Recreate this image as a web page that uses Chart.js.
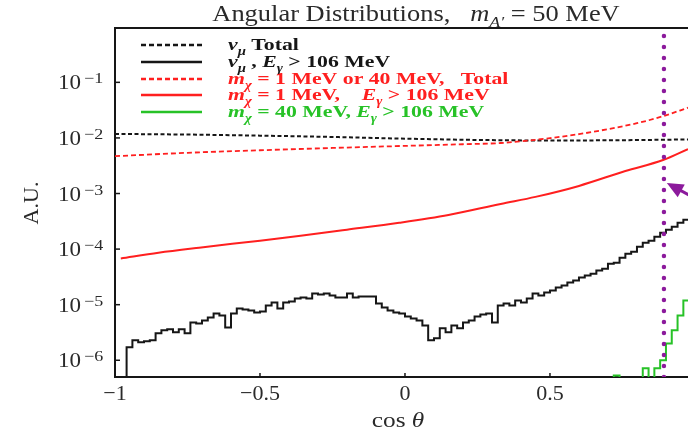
<!DOCTYPE html>
<html>
<head>
<meta charset="utf-8">
<script src="https://cdn.jsdelivr.net/npm/chart.js@4.4.1/dist/chart.umd.min.js"></script>
<style>
  html, body { margin: 0; padding: 0; background: #fff; overflow: hidden; }
  #wrap { width: 688px; height: 430px; }
</style>
</head>
<body>
<div id="wrap"><canvas id="angChart" width="688" height="430"></canvas></div>
<script>
// histogram bins in cos(theta)
const binWidth = 0.02;

// nu_mu background, E_gamma > 106 MeV (bins start at cos = -0.96)
const numuCutStart = -0.96;
const numuCut = [
  1.71e-6, 2.28e-6, 2.10e-6, 2.19e-6, 2.28e-6, 3.05e-6, 3.45e-6, 3.60e-6, 3.18e-6, 3.60e-6,
  3.05e-6, 4.80e-6, 4.60e-6, 5.21e-6, 5.90e-6, 6.95e-6, 6.40e-6, 3.90e-6, 6.95e-6, 8.55e-6,
  8.20e-6, 7.87e-6, 7.24e-6, 7.55e-6, 9.68e-6, 1.09e-5, 8.55e-6, 1.09e-5, 1.14e-5, 1.29e-5,
  1.35e-5, 1.29e-5, 1.59e-5, 1.52e-5, 1.59e-5, 1.46e-5, 1.35e-5, 1.35e-5, 1.59e-5, 1.35e-5,
  1.40e-5, 1.40e-5, 1.40e-5, 1.05e-5, 8.90e-6, 7.87e-6, 7.24e-6, 6.95e-6, 6.15e-6, 5.66e-6,
  5.21e-6, 4.23e-6, 2.28e-6, 2.48e-6, 3.75e-6, 3.18e-6, 4.23e-6, 3.75e-6, 4.80e-6, 5.21e-6,
  6.15e-6, 6.67e-6, 6.95e-6, 4.80e-6, 9.68e-6, 1.05e-5, 9.68e-6, 1.19e-5, 1.09e-5, 1.29e-5,
  1.59e-5, 1.46e-5, 1.66e-5, 1.80e-5, 2.03e-5, 2.21e-5, 2.50e-5, 2.72e-5, 3.07e-5, 3.34e-5,
  3.62e-5, 4.10e-5, 4.45e-5, 5.47e-5, 5.70e-5, 7.01e-5, 8.27e-5, 8.97e-5, 1.10e-4, 1.30e-4,
  1.42e-4, 1.67e-4, 1.97e-4, 2.23e-4, 2.52e-4, 2.97e-4, 3.37e-4
];

// m_chi = 40 MeV, E_gamma > 106 MeV (bins start at cos = 0.72)
const chi40CutStart = 0.72;
const chi40Cut = [5.3e-7, 0, 0, 0, 0, 7.2e-7, 0, 7.2e-7, 1.0e-6, 2.0e-6, 3.45e-6, 6.4e-6, 1.19e-5];

// nu_mu total
const numuTotalCos = [-1, -0.75, -0.5, -0.25, 0, 0.25, 0.5, 0.75, 0.976];
const numuTotal = [1.18e-2, 1.15e-2, 1.10e-2, 1.04e-2, 9.7e-3, 9.2e-3, 9.0e-3, 9.1e-3, 9.4e-3];

// m_chi = 1 MeV or 40 MeV, total
const chiTotalCos = [-1, -0.75, -0.5, -0.25, 0, 0.2, 0.33, 0.5, 0.6, 0.7, 0.8, 0.89, 0.976];
const chiTotal = [4.7e-3, 5.4e-3, 6.0e-3, 6.6e-3, 7.2e-3, 7.7e-3, 8.1e-3, 9.9e-3, 1.17e-2, 1.44e-2, 1.84e-2, 2.46e-2, 3.5e-2];

// m_chi = 1 MeV, E_gamma > 106 MeV
const chi1CutCos = [-0.98, -0.85, -0.71, -0.5, -0.36, -0.2, -0.02, 0.15, 0.33, 0.45, 0.6, 0.76, 0.89, 0.976];
const chi1Cut = [6.8e-5, 8.6e-5, 1.06e-4, 1.42e-4, 1.74e-4, 2.23e-4, 2.97e-4, 4.1e-4, 6.5e-4, 8.7e-4, 1.37e-3, 2.54e-3, 4.0e-3, 6.3e-3];

// angular cut and arrow tip
const cutCos = 0.893;
const arrowTip = { x: 0.903, y: 1.55e-3 };

// axes
const xTickValues = [-1, -0.5, 0, 0.5];
const xTickLabels = ['\u22121', '\u22120.5', '0', '0.5'];
const yTickExps = [-6, -5, -4, -3, -2, -1];
const xRange = [-1, 0.976];
const yRange = [5e-7, 0.95];

const BLACK = '#161616', RED = '#ff1f1f', GREEN = '#27c227', PURPLE = '#8c1a9c';
const SERIF = '"Liberation Serif", "Times New Roman", serif';

function histPoints(start, values) {
  const pts = [{ x: start, y: 1e-9 }];
  values.forEach((v, i) => {
    const lo = start + i * binWidth, hi = lo + binWidth;
    const y = v > 0 ? v : 1e-9;
    pts.push({ x: lo, y: y }, { x: hi, y: y });
  });
  return pts;
}
function pairs(xs, ys) { return xs.map((x, i) => ({ x: x, y: ys[i] })); }

// draw a sequence of text runs (italic / sub / sup) starting at baseline y
function drawRuns(ctx, runs, x, y, size, color, weight, align, sx) {
  const fontFor = r => {
    const s = (r.sub || r.sup) ? size * 0.68 : size;
    return (r.it ? 'italic ' : '') + (weight || 'normal') + ' ' + s + 'px ' + SERIF;
  };
  let total = 0;
  runs.forEach(r => { ctx.font = fontFor(r); total += ctx.measureText(r.t).width; });
  ctx.save();
  ctx.translate(x, 0);
  ctx.scale(sx || 1.12, 1);
  let cx = align === 'center' ? -total / 2 : (align === 'right' ? -total : 0);
  ctx.fillStyle = color;
  ctx.textAlign = 'left';
  ctx.textBaseline = 'alphabetic';
  runs.forEach(r => {
    ctx.font = fontFor(r);
    const dy = r.sub ? size * 0.28 : (r.sup ? -size * 0.45 : 0);
    ctx.fillText(r.t, cx, y + dy);
    cx += ctx.measureText(r.t).width;
  });
  ctx.restore();
}

const legendItems = [
  { color: BLACK, dash: [5, 3], runs: [{ t: '\u03bd', it: true }, { t: '\u03bc', sub: true, it: true }, { t: ' Total' }] },
  { color: BLACK, dash: [], runs: [{ t: '\u03bd', it: true }, { t: '\u03bc', sub: true, it: true }, { t: ' , ' }, { t: 'E', it: true }, { t: '\u03b3', sub: true, it: true }, { t: ' > 106 MeV' }] },
  { color: RED, dash: [5, 3], runs: [{ t: 'm', it: true }, { t: '\u03c7', sub: true, it: true }, { t: ' = 1 MeV or 40 MeV,   Total' }] },
  { color: RED, dash: [], runs: [{ t: 'm', it: true }, { t: '\u03c7', sub: true, it: true }, { t: ' = 1 MeV,    ' }, { t: 'E', it: true }, { t: '\u03b3', sub: true, it: true }, { t: ' > 106 MeV' }] },
  { color: GREEN, dash: [], runs: [{ t: 'm', it: true }, { t: '\u03c7', sub: true, it: true }, { t: ' = 40 MeV, ' }, { t: 'E', it: true }, { t: '\u03b3', sub: true, it: true }, { t: ' > 106 MeV' }] }
];

const decorPlugin = {
  id: 'decor',
  afterDraw(chart) {
    const ctx = chart.ctx, area = chart.chartArea;
    const xs = chart.scales.x, ys = chart.scales.y;
    ctx.save();
    // top frame
    ctx.strokeStyle = BLACK; ctx.lineWidth = 2;
    ctx.beginPath(); ctx.moveTo(area.left - 1, area.top); ctx.lineTo(area.right, area.top); ctx.stroke();
    // inward ticks
    ctx.lineWidth = 1.5;
    yTickExps.forEach(e => {
      const py = ys.getPixelForValue(Math.pow(10, e));
      ctx.beginPath(); ctx.moveTo(area.left, py); ctx.lineTo(area.left + 5, py); ctx.stroke();
    });
    xTickValues.forEach(v => {
      const px = xs.getPixelForValue(v);
      ctx.beginPath(); ctx.moveTo(px, area.bottom); ctx.lineTo(px, area.bottom - 4); ctx.stroke();
    });
    // y tick labels 10^k
    yTickExps.forEach(e => {
      const py = ys.getPixelForValue(Math.pow(10, e));
      drawRuns(ctx, [{ t: '10' }], 81, py + 7, 20, '#2a2a2a', 'normal', 'right', 1.15);
      drawRuns(ctx, [{ t: '\u2212' + Math.abs(e) }], 84, py + 1, 15, '#2a2a2a', 'normal', 'left', 1.2);
    });
    // axis titles
    drawRuns(ctx, [{ t: 'cos ' }, { t: '\u03b8', it: true }], 398, 427, 22, '#2a2a2a', 'normal', 'center', 1.15);
    ctx.save();
    ctx.translate(38, 203);
    ctx.rotate(-Math.PI / 2);
    drawRuns(ctx, [{ t: 'A.U.' }], 0, 0, 22, '#2a2a2a', 'normal', 'center', 1.0);
    ctx.restore();
    // title
    drawRuns(ctx, [{ t: 'Angular Distributions,   ' }, { t: 'm', it: true }, { t: 'A\u2032', sub: true, it: true }, { t: ' = 50 MeV' }],
      416, 21, 23, '#2a2a2a', 'normal', 'center', 1.15);
    // legend
    const rowY = [45, 62, 79, 95, 112];
    legendItems.forEach((it, i) => {
      ctx.strokeStyle = it.color; ctx.lineWidth = 2.6; ctx.setLineDash(it.dash);
      ctx.beginPath(); ctx.moveTo(141, rowY[i]); ctx.lineTo(202, rowY[i]); ctx.stroke();
      ctx.setLineDash([]);
      drawRuns(ctx, it.runs, 228, rowY[i] + 5, 17, it.color, 'bold', 'left', 1.28);
    });
    // arrow
    const tx = xs.getPixelForValue(arrowTip.x), ty = ys.getPixelForValue(arrowTip.y);
    const ang = Math.atan2(0.55, 1);
    ctx.strokeStyle = PURPLE; ctx.fillStyle = PURPLE; ctx.lineWidth = 3;
    ctx.beginPath(); ctx.moveTo(tx + 10 * Math.cos(ang), ty + 10 * Math.sin(ang)); ctx.lineTo(tx + 60, ty + 33); ctx.stroke();
    ctx.beginPath();
    ctx.moveTo(tx, ty);
    ctx.lineTo(tx + 18 * Math.cos(ang - 0.42), ty + 18 * Math.sin(ang - 0.42));
    ctx.lineTo(tx + 18 * Math.cos(ang + 0.42), ty + 18 * Math.sin(ang + 0.42));
    ctx.closePath(); ctx.fill();
    ctx.restore();
  }
};

new Chart(document.getElementById('angChart'), {
  type: 'line',
  data: {
    datasets: [
      { data: [{ x: cutCos, y: yRange[0] }, { x: cutCos, y: yRange[1] }], borderColor: PURPLE, borderWidth: 4.5,
        borderDash: [0, 11], borderCapStyle: 'round', pointRadius: 0 },
      { data: histPoints(chi40CutStart, chi40Cut), borderColor: GREEN, borderWidth: 2, pointRadius: 0 },
      { data: histPoints(numuCutStart, numuCut), borderColor: BLACK, borderWidth: 2, pointRadius: 0 },
      { data: pairs(chi1CutCos, chi1Cut), borderColor: RED, borderWidth: 2, pointRadius: 0, cubicInterpolationMode: 'monotone' },
      { data: pairs(chiTotalCos, chiTotal), borderColor: RED, borderWidth: 1.8, borderDash: [5, 3], pointRadius: 0, cubicInterpolationMode: 'monotone' },
      { data: pairs(numuTotalCos, numuTotal), borderColor: BLACK, borderWidth: 2, borderDash: [4, 2.5], pointRadius: 0, cubicInterpolationMode: 'monotone' }
    ]
  },
  options: {
    responsive: false,
    animation: false,
    layout: { padding: { top: 28, right: 0, left: 0, bottom: 0 } },
    plugins: { legend: { display: false }, title: { display: false }, tooltip: { enabled: false } },
    scales: {
      x: {
        type: 'linear', min: xRange[0], max: xRange[1],
        afterBuildTicks: s => { s.ticks = xTickValues.map(v => ({ value: v })); },
        afterFit: s => { s.height = 53; },
        grid: { display: true, drawOnChartArea: false, drawTicks: false },
        border: { display: true, color: BLACK, width: 2 },
        ticks: {
          padding: 4, maxRotation: 0, autoSkip: false, color: '#2a2a2a',
          font: { family: SERIF, size: 22 },
          callback: v => { const i = xTickValues.indexOf(v); return i >= 0 ? xTickLabels[i] : ''; }
        }
      },
      y: {
        type: 'logarithmic', min: yRange[0], max: yRange[1],
        afterFit: s => { s.width = 115; },
        grid: { display: false },
        border: { display: true, color: BLACK, width: 2 },
        ticks: { display: false }
      }
    }
  },
  plugins: [decorPlugin]
});
</script>
</body>
</html>
